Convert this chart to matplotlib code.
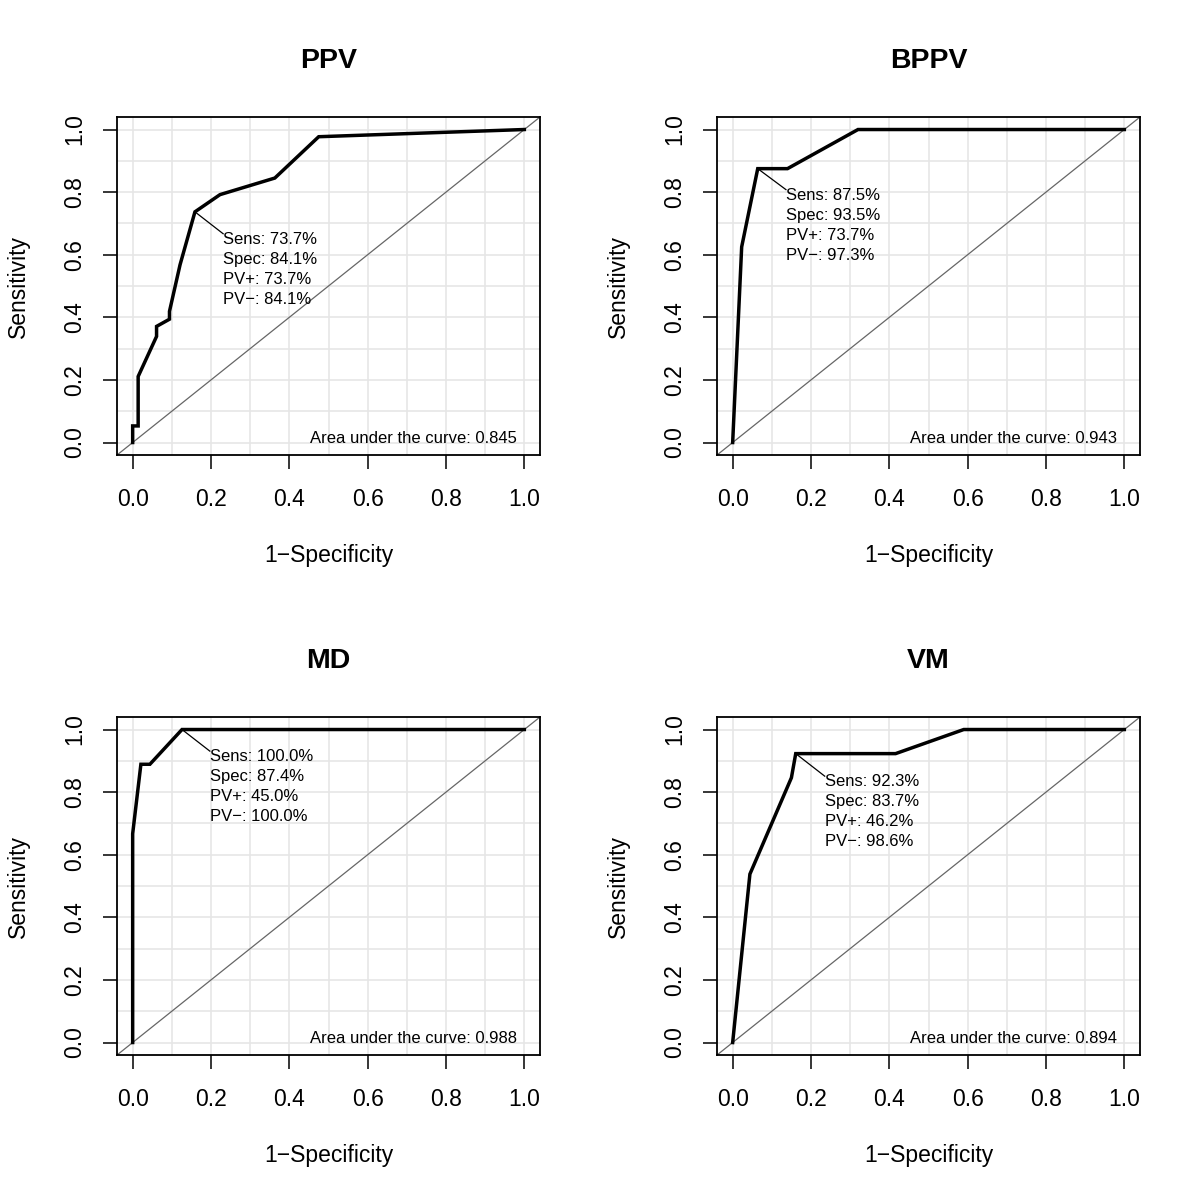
import matplotlib
matplotlib.use("Agg")
import matplotlib.pyplot as plt
import numpy as np

plt.rcParams['font.family'] = ['Liberation Sans', 'DejaVu Sans']

# ROC curves (x = 1 - specificity, y = sensitivity)
titles = ["PPV", "BPPV", "MD", "VM"]

ppv_fpr = [0.0, 0.0, 0.014, 0.014, 0.061, 0.061, 0.094, 0.094, 0.121, 0.159, 0.223, 0.363, 0.475, 1.0]
ppv_tpr = [0.0, 0.053, 0.053, 0.211, 0.339, 0.371, 0.394, 0.419, 0.568, 0.737, 0.792, 0.845, 0.977, 1.0]

bppv_fpr = [0.0, 0.023, 0.064, 0.140, 0.320, 1.0]
bppv_tpr = [0.0, 0.625, 0.875, 0.875, 1.0, 1.0]

md_fpr = [0.0, 0.0, 0.021, 0.044, 0.126, 1.0]
md_tpr = [0.0, 0.667, 0.889, 0.889, 1.0, 1.0]

vm_fpr = [0.0, 0.044, 0.150, 0.161, 0.416, 0.590, 1.0]
vm_tpr = [0.0, 0.538, 0.846, 0.923, 0.923, 1.0, 1.0]

fprs = [ppv_fpr, bppv_fpr, md_fpr, vm_fpr]
tprs = [ppv_tpr, bppv_tpr, md_tpr, vm_tpr]

# optimal cut-off point and where its label starts
best_idx = [9, 2, 4, 3]
label_pos = [(0.231, 0.667), (0.136, 0.808), (0.197, 0.931), (0.235, 0.851)]

sens = ["73.7", "87.5", "100.0", "92.3"]
spec = ["84.1", "93.5", "87.4", "83.7"]
pv_pos = ["73.7", "73.7", "45.0", "46.2"]
pv_neg = ["84.1", "97.3", "100.0", "98.6"]
auc = ["0.845", "0.943", "0.988", "0.894"]

fig = plt.figure(figsize=(12, 12), dpi=100)

lefts = [0.0975, 0.5975, 0.0975, 0.5975]
bottoms = [0.6208, 0.6208, 0.1208, 0.1208]

for i in range(4):
    ax = fig.add_axes([lefts[i], bottoms[i], 0.3525, 0.2817])
    ax.set_xlim(-0.04, 1.04)
    ax.set_ylim(-0.04, 1.04)

    # light grid every 0.1
    for g in np.arange(0, 1.01, 0.1):
        ax.axvline(g, color="#e6e6e6", lw=1.2, zorder=0)
        ax.axhline(g, color="#e6e6e6", lw=1.2, zorder=0)

    ax.axline((0, 0), (1, 1), color="#666666", lw=0.9, zorder=1)
    ax.plot(fprs[i], tprs[i], color="black", lw=2.5, solid_joinstyle="miter", zorder=3)

    bx, by = fprs[i][best_idx[i]], tprs[i][best_idx[i]]
    tx, ty = label_pos[i]
    ax.plot([bx, tx], [by, ty], color="black", lw=0.9, zorder=2)
    txt = ("Sens: " + sens[i] + "%\nSpec: " + spec[i] + "%\nPV+: " + pv_pos[i]
           + "%\nPV\u2212: " + pv_neg[i] + "%")
    ax.text(tx, ty + 0.006, txt, ha="left", va="top", fontsize=12,
            linespacing=1.42, zorder=4)
    ax.text(0.98, 0.0, "Area under the curve: " + auc[i], ha="right",
            va="baseline", fontsize=12, zorder=4)

    ticks = [0.0, 0.2, 0.4, 0.6, 0.8, 1.0]
    ax.set_xticks(ticks)
    ax.set_yticks(ticks)
    ax.set_xticklabels(["%.1f" % t for t in ticks])
    ax.set_yticklabels(["%.1f" % t for t in ticks], rotation=90, va="center")
    ax.tick_params(direction="out", length=10, width=1.1, labelsize=16.5)
    ax.tick_params(axis="x", pad=14)
    ax.tick_params(axis="y", pad=12)

    for s in ax.spines.values():
        s.set_linewidth(1.3)

    ax.set_xlabel("1\u2212Specificity", fontsize=16.5)
    ax.xaxis.set_label_coords(0.5, -0.296)
    ax.xaxis.label.set_verticalalignment("center")
    ax.set_ylabel("Sensitivity", fontsize=16.5)
    ax.yaxis.set_label_coords(-0.234, 0.5)
    ax.yaxis.label.set_verticalalignment("center")

    ax.set_title(titles[i], fontsize=20.5, fontweight="bold", y=1.145, pad=0)

fig.savefig("out.png", dpi=100)
